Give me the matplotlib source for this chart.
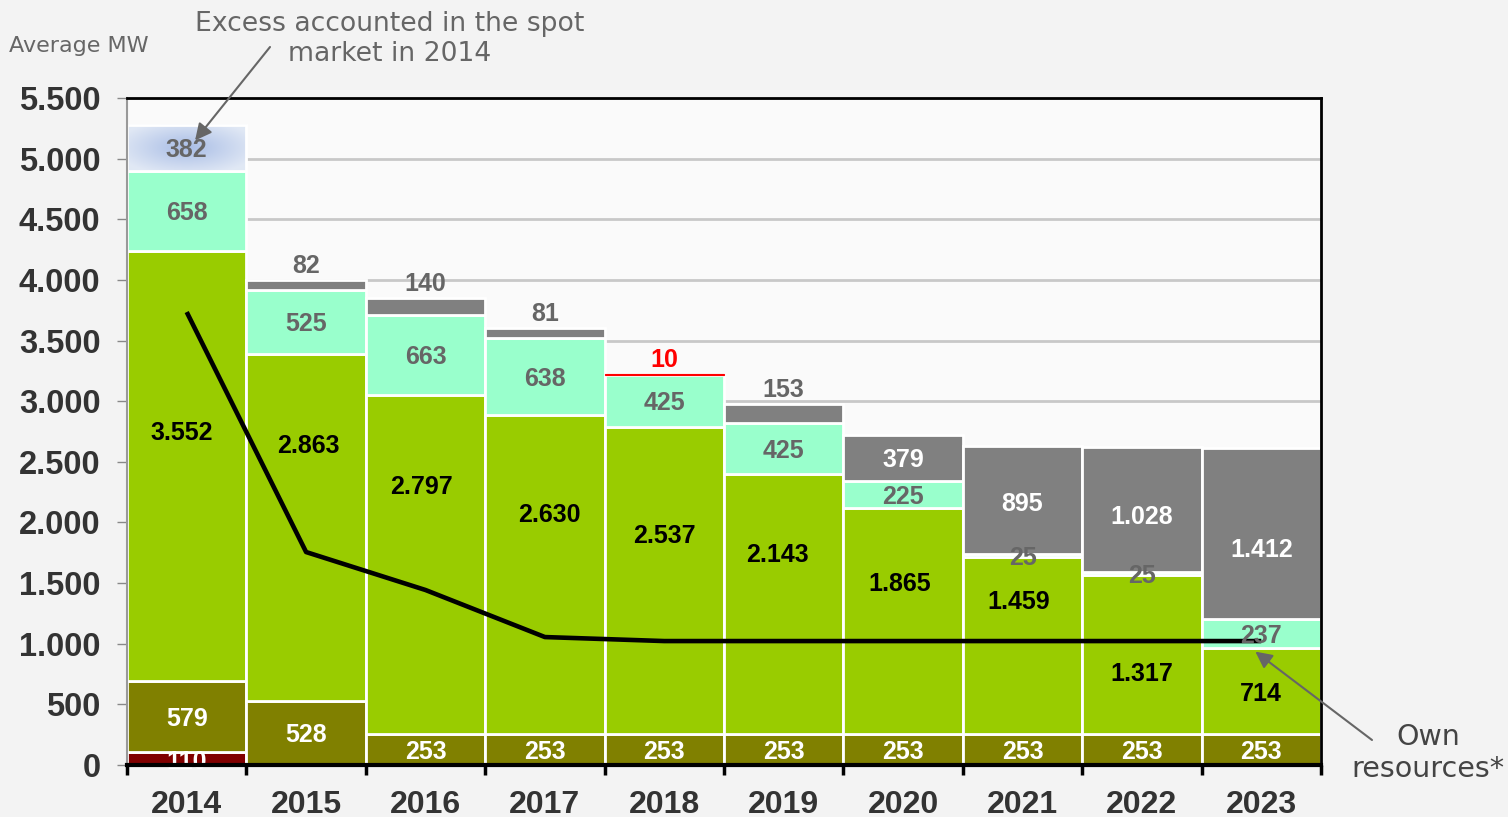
import numpy as np
import matplotlib
matplotlib.use("Agg")
import matplotlib.pyplot as plt

years = ["2014", "2015", "2016", "2017", "2018", "2019", "2020", "2021", "2022", "2023"]
dark_red = [110, 0, 0, 0, 0, 0, 0, 0, 0, 0]
olive = [579, 528, 253, 253, 253, 253, 253, 253, 253, 253]
green = [3552, 2863, 2797, 2630, 2537, 2143, 1865, 1459, 1317, 714]
aqua = [658, 525, 663, 638, 425, 425, 225, 25, 25, 237]
gray = [0, 82, 140, 81, 10, 153, 379, 895, 1028, 1412]
spot_excess = [382, 0, 0, 0, 0, 0, 0, 0, 0, 0]
own_resources = [3735, 1756, 1443, 1055, 1022, 1022, 1022, 1022, 1022, 1022]
yticks = [0, 500, 1000, 1500, 2000, 2500, 3000, 3500, 4000, 4500, 5000, 5500]

# layout: label placement tweaks (as drawn in the original)
green_label_y = [2762, 2655, 2317, 2078, 1913, 1756, 1509, 1361, 767, 602]
green_label_dx = [-0.04, 0.02, -0.03, 0.04, 0.0, -0.05, -0.03, -0.03, 0.0, 0.0]
gray_label_dy = [0, 0, 0, 0, 0, 0, 0, -15, -40, -120]


def fmt(v):
    return f"{v:,}".replace(",", ".")


plt.rcParams['font.family'] = ['Liberation Sans', 'DejaVu Sans']
fig = plt.figure(figsize=(15.08, 8.17), dpi=100, facecolor='#f3f3f3')
ax = fig.add_axes([127 / 1508, 52 / 817, (1321 - 127) / 1508, (765 - 98) / 817])
ax.set_facecolor('#fafafa')

x = np.arange(len(years))
dr = np.array(dark_red)
ol = np.array(olive)
gr = np.array(green)
aq = np.array(aqua)
gy = np.array(gray)
sp = np.array(spot_excess)

for yv in yticks[1:]:
    ax.axhline(yv, color='#c8c8c8', lw=2, zorder=0)

ew = 2.0
b0 = np.zeros(len(x))
ax.bar(x, dr, 1.0, bottom=b0, color='#800000', edgecolor='white', lw=ew, zorder=2)
b1 = b0 + dr
ax.bar(x, ol, 1.0, bottom=b1, color='#808000', edgecolor='white', lw=ew, zorder=2)
b2 = b1 + ol
ax.bar(x, gr, 1.0, bottom=b2, color='#99cc00', edgecolor='white', lw=ew, zorder=2)
b3 = b2 + gr
ax.bar(x, aq, 1.0, bottom=b3, color='#99ffcc', edgecolor='white', lw=ew, zorder=2)
b4 = b3 + aq
gcols = ['#ff0000' if v < 20 else '#808080' for v in gy]
gedge = ['#ff0000' if v < 20 else 'white' for v in gy]
for i in range(len(x)):
    if gy[i] > 0:
        ax.bar(x[i], gy[i], 1.0, bottom=b4[i], color=gcols[i], edgecolor=gedge[i],
               lw=ew if gy[i] >= 20 else 0.8, zorder=2)
b5 = b4 + gy

# spot excess with radial gradient
for i in range(len(x)):
    if sp[i] > 0:
        ax.bar(x[i], sp[i], 1.0, bottom=b5[i], color='none', edgecolor='white', lw=ew, zorder=4)
        gx, gyy = np.meshgrid(np.linspace(-1, 1, 200), np.linspace(-1, 1, 60))
        r = np.clip(np.sqrt(gx ** 2 + gyy ** 2) / 1.2, 0, 1)
        c0 = np.array([0.66, 0.74, 0.90])
        c1 = np.array([0.88, 0.91, 0.96])
        img = c0[None, None, :] * (1 - r[..., None]) + c1[None, None, :] * r[..., None]
        ax.imshow(img, extent=(x[i] - 0.5, x[i] + 0.5, b5[i], b5[i] + sp[i]),
                  aspect='auto', zorder=3, origin='lower')
        ax.text(x[i], b5[i] + sp[i] / 2, fmt(int(sp[i])), ha='center', va='center_baseline',
                fontsize=18, fontweight='bold', color='#666666', zorder=6)

lab = dict(ha='center', va='center_baseline', fontsize=18, fontweight='bold', zorder=6)
for i in range(len(x)):
    if dr[i] > 0:
        ax.text(x[i], b0[i] + dr[i] / 2 - 10, fmt(int(dr[i])), color='white', **lab)
    ax.text(x[i], b1[i] + ol[i] / 2, fmt(int(ol[i])), color='white', **lab)
    ax.text(x[i] + green_label_dx[i], green_label_y[i], fmt(int(gr[i])), color='black', **lab)
    ax.text(x[i], b3[i] + aq[i] / 2, fmt(int(aq[i])), color='#666666', **lab)
    if gy[i] > 0:
        if gy[i] < 300:
            col = '#ff0000' if gy[i] < 20 else '#666666'
            ax.annotate(fmt(int(gy[i])), (x[i], b5[i]), xytext=(0, 1.5), textcoords='offset points',
                        ha='center', va='bottom', fontsize=18, fontweight='bold', color=col, zorder=6)
        else:
            ax.text(x[i], b4[i] + gy[i] / 2 + gray_label_dy[i], fmt(int(gy[i])), color='white', **lab)

ax.plot(x, own_resources, color='black', lw=3.3, zorder=5, solid_capstyle='butt')

ax.set_xlim(-0.5, len(x) - 0.5)
ax.set_ylim(0, 5500)
ax.set_yticks(yticks)
ax.set_yticklabels([fmt(v) for v in yticks], fontsize=23.5, fontweight='bold', color='#333333')
ax.tick_params(axis='y', length=7, width=1, color='#888888', pad=12)
ax.set_xticks(np.arange(len(x) + 1) - 0.5)
ax.set_xticklabels([])
ax.tick_params(axis='x', which='major', length=7, width=2.5, color='black', direction='out')
ax.set_xticks(x, minor=True)
ax.set_xticklabels(years, minor=True, fontsize=23, fontweight='bold', color='#333333')
ax.tick_params(axis='x', which='minor', length=0, pad=18)

ax.spines['left'].set_color('#999999')
ax.spines['left'].set_linewidth(1.5)
ax.spines['bottom'].set_color('black')
ax.spines['bottom'].set_linewidth(3)
ax.spines['top'].set_color('black')
ax.spines['top'].set_linewidth(2)
ax.spines['right'].set_color('black')
ax.spines['right'].set_linewidth(2)
for s in ax.spines.values():
    s.set_zorder(7)

fig.text(79 / 1508, 1 - 46 / 817, "Average MW", ha='center', va='center', fontsize=16,
         color='#666666', family='DejaVu Sans')
fig.text(390 / 1508, 1 - 39 / 817, "Excess accounted in the spot\nmarket in 2014", ha='center',
         va='center', fontsize=19.2, color='#666666', family='DejaVu Sans', linespacing=1.2)
fig.text(1428 / 1508, 1 - 753 / 817, "Own\nresources*", ha='center', va='center', fontsize=20.5,
         color='#444444', family='DejaVu Sans', linespacing=1.2)

arrow = dict(arrowstyle='-|>', color='#666666', lw=1.5, mutation_scale=25, shrinkA=0, shrinkB=0)
ax.annotate('', xy=(0.07, 5150), xytext=(270 / 1508, 1 - 47 / 817), textcoords='figure fraction',
            arrowprops=arrow, zorder=8, annotation_clip=False)
ax.annotate('', xy=(8.95, 935), xytext=(1372 / 1508, 1 - 740 / 817), textcoords='figure fraction',
            arrowprops=arrow, zorder=8, annotation_clip=False)

fig.savefig('out.png', dpi=100, facecolor=fig.get_facecolor())
